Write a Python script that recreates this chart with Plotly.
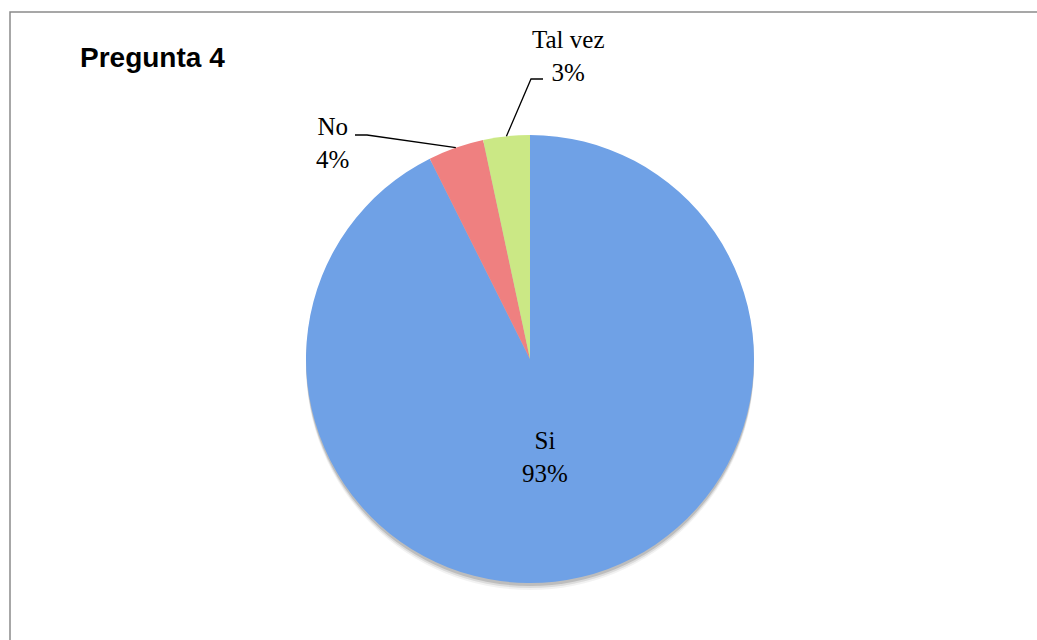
import math
import plotly.graph_objects as go

# ---- data ----
labels = ["Si", "No", "Tal vez"]
values = [138, 6, 5]
colors = ["#6FA1E6", "#EF8080", "#CBE885"]
chart_title = "Pregunta 4"

# ---- layout geometry (pixels) ----
W, H = 1037, 640
cx, cy, R = 530, 359, 224

def px(x):
    return x / W

def py(y):
    return 1 - y / H

def dom(dx=0, dy=0):
    return dict(x=[px(cx - R + dx), px(cx + R + dx)],
                y=[py(cy + R + dy), py(cy - R + dy)])

total = sum(values)
pcts = [round(100 * v / total) for v in values]

fig = go.Figure()

# soft shadow layers
for off, op in [(7, 0.05), (5, 0.09), (3, 0.14)]:
    fig.add_trace(go.Pie(
        values=[total], labels=["shadow"], domain=dom(0, off),
        marker=dict(colors=["rgba(0,0,0,%s)" % op], line=dict(width=0)),
        textinfo="none", hoverinfo="skip", sort=False, showlegend=False,
    ))

fig.add_trace(go.Pie(
    labels=labels, values=values, domain=dom(),
    sort=False, direction="clockwise", rotation=0,
    marker=dict(colors=colors, line=dict(color="white", width=0)),
    textinfo="none", showlegend=False,
))

# label placement (pixel centres) and leader line starts
label_pos = {"Si": (545, 457), "No": (332, 143), "Tal vez": (568, 56)}
leader = {"No": [(355, 135), (367, 135)], "Tal vez": [(543, 79), (531, 79)]}

annotations = []
shapes = []
cum = 0
for lab, v, p in zip(labels, values, pcts):
    mid = (cum + v / 2) / total * 2 * math.pi
    cum += v
    lx, ly = label_pos[lab]
    annotations.append(dict(
        x=px(lx), y=py(ly), xref="paper", yref="paper",
        text="%s<br>%d%%" % (lab, p), showarrow=False,
        xanchor="center", yanchor="middle", align="center",
        font=dict(family="Liberation Serif", size=25, color="black"),
    ))
    if lab in leader:
        ex = cx + R * math.sin(mid)
        ey = cy - R * math.cos(mid)
        pts = leader[lab] + [(ex, ey)]
        path = "M " + " L ".join("%f,%f" % (px(a), py(b)) for a, b in pts)
        shapes.append(dict(type="path", xref="paper", yref="paper", path=path,
                           line=dict(color="black", width=1.3)))

annotations.append(dict(
    x=px(78), y=py(58), xref="paper", yref="paper", text="<b>%s</b>" % chart_title,
    showarrow=False, xanchor="left", yanchor="middle",
    font=dict(family="Liberation Sans", size=28, color="black"),
))

# chart frame
shapes.append(dict(type="rect", xref="paper", yref="paper",
                   x0=px(10), x1=px(W + 10), y0=py(H + 10), y1=py(12),
                   line=dict(color="#8A8A8A", width=1.5), fillcolor="rgba(0,0,0,0)"))

fig.update_layout(
    width=W, height=H, margin=dict(l=0, r=0, t=0, b=0),
    paper_bgcolor="white", plot_bgcolor="white",
    annotations=annotations, shapes=shapes, showlegend=False,
)

fig.write_html("out.html")
